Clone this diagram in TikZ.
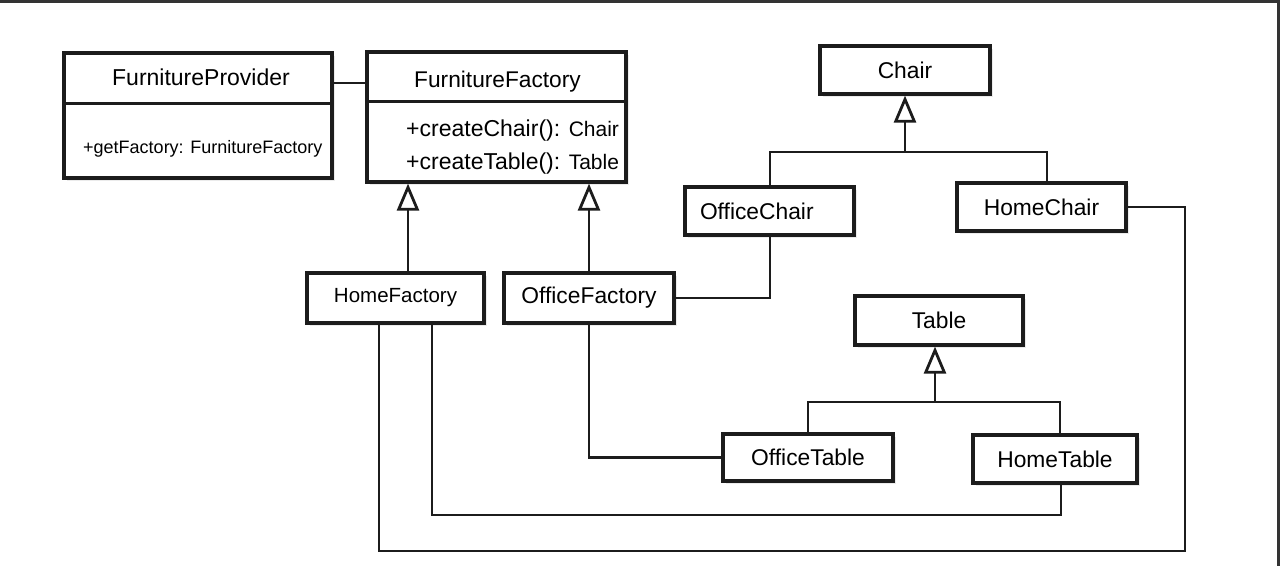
\documentclass[tikz,border=0pt]{standalone}
\usepackage{fontspec}
\setmainfont{Liberation Sans}
\usetikzlibrary{arrows.meta,shadows}
\definecolor{inkc}{HTML}{1C1C1C}
\definecolor{framec}{HTML}{333333}
\begin{document}
\begin{tikzpicture}[x=1pt,y=-1pt,
  box/.style={draw=inkc, line width=3.2pt, fill=white, rectangle, inner sep=0pt,
    drop shadow={shadow xshift=3pt, shadow yshift=-3pt, fill=black!15}},
  boxline/.style={draw=inkc, line width=3pt},
  conn/.style={draw=inkc, line width=2.8pt, line join=miter},
  gen/.style={conn, -{Triangle[length=27pt,width=22pt,fill=white,line join=miter]}},
  lbl/.style={inner sep=0pt, font=\fontsize{22.8}{24}\selectfont}]
\useasboundingbox (0,0) rectangle (1280,566);
\fill[white] (0,0) rectangle (1280,566);
\draw[framec, line width=2.5pt] (0,1.25) -- (1280,1.25);
\draw[framec, line width=3pt] (1278.5,0) -- (1278.5,566);

% FurnitureProvider
\node[box, minimum width=268pt, minimum height=125pt] (FP) at (198,115.5) {};
\draw[boxline] (FP.west |- 0,103) -- (FP.east |- 0,103);
\node[inner sep=0pt, anchor=base, font=\fontsize{23}{24}\selectfont] (FPt) at (201,85) {FurnitureProvider};
\node[inner sep=0pt, anchor=base west, font=\fontsize{18}{20}\selectfont] (FPm) at (83,153) {+getFactory: FurnitureFactory};

% FurnitureFactory
\node[box, minimum width=259pt, minimum height=130pt] (FF) at (496.5,117) {};
\draw[boxline] (FF.west |- 0,101) -- (FF.east |- 0,101);
\node[inner sep=0pt, anchor=base, font=\fontsize{22.7}{24}\selectfont] (FFt) at (497.5,87) {FurnitureFactory};
\node[inner sep=0pt, anchor=base west] (FFm1) at (406,136.5) {\fontsize{23}{24}\selectfont +createChair(): \fontsize{21}{24}\selectfont Chair};
\node[inner sep=0pt, anchor=base west] (FFm2) at (406,169.5) {\fontsize{23}{24}\selectfont +createTable(): \fontsize{21}{24}\selectfont Table};

% factories
\node[box, minimum width=177pt, minimum height=50pt, font=\fontsize{20.5}{22}\selectfont] (HF) at (395.5,298) {HomeFactory};
\node[box, minimum width=170pt, minimum height=50pt, lbl] (OF) at (589,298) {OfficeFactory};

% chairs
\node[box, minimum width=170pt, minimum height=48pt, lbl] (CH) at (905,70) {Chair};
\node[box, minimum width=169pt, minimum height=48pt, lbl, text width=139pt, align=left] (OC) at (769.5,211) {OfficeChair};
\node[box, minimum width=169pt, minimum height=48pt, lbl] (HC) at (1041.5,207) {HomeChair};

% tables
\node[box, minimum width=168pt, minimum height=49pt, lbl] (TB) at (939,320.5) {Table};
\node[box, minimum width=170pt, minimum height=47pt, lbl] (OT) at (808,457.5) {OfficeTable};
\node[box, minimum width=164pt, minimum height=48pt, lbl] (HT) at (1055,459) {HomeTable};

% association provider - factory
\draw[conn] (FP.east |- 0,83) -- (FF.west |- 0,83);

% generalisations of factories
\draw[gen] ([xshift=12.5pt]HF.north) -- ([xshift=12.5pt]HF.north |- FF.south);
\draw[gen] (OF.north) -- (OF.north |- FF.south);

% chair hierarchy
\coordinate (cb) at (905,152);
\draw[gen] (cb) -- (CH.south);
\draw[conn] ([xshift=0.5pt]OC.north) |- (cb) -| ([xshift=5.5pt]HC.north);

% table hierarchy
\coordinate (tb) at (935,402);
\draw[gen] (tb) -- (tb |- TB.south);
\draw[conn] (OT.north) |- (tb) -| ([xshift=5pt]HT.north);

% product associations
\draw[conn] ([xshift=0.5pt]OC.south) |- (OF.east);
\draw[conn] (OF.south) |- (OT.west);
\coordinate (c1) at (1185,551);
\draw[conn] (HC.east) -| (c1) -| ([xshift=-16.5pt]HF.south);
\coordinate (c2) at (1061,515);
\draw[conn] (HT.south -| c2) -- (c2) -| ([xshift=36.5pt]HF.south);
\end{tikzpicture}
\end{document}
